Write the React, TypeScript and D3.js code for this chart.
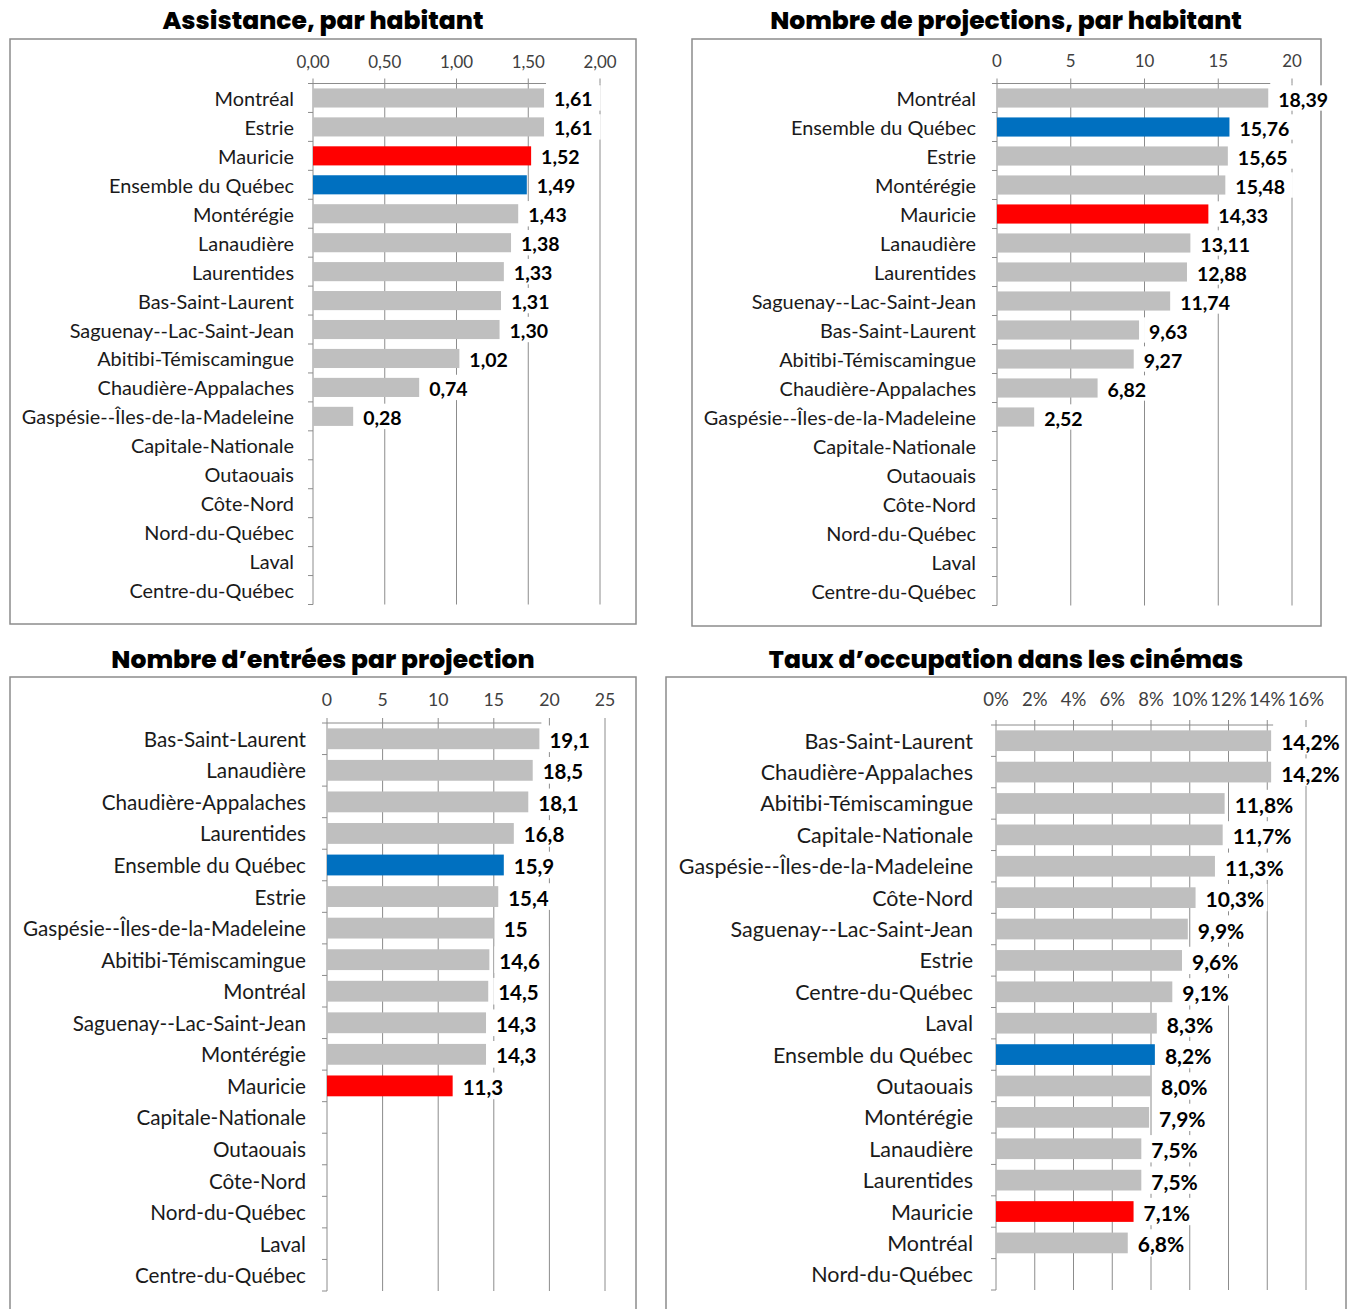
import React from 'react';
import * as d3 from 'd3';

// --- data ---
const assistanceRegions = [
  'Montréal', 'Estrie', 'Mauricie', 'Ensemble du Québec', 'Montérégie', 'Lanaudière',
  'Laurentides', 'Bas-Saint-Laurent', 'Saguenay--Lac-Saint-Jean', 'Abitibi-Témiscamingue',
  'Chaudière-Appalaches', 'Gaspésie--Îles-de-la-Madeleine', 'Capitale-Nationale', 'Outaouais',
  'Côte-Nord', 'Nord-du-Québec', 'Laval', 'Centre-du-Québec',
];
const assistanceValues = [1.61, 1.61, 1.52, 1.49, 1.43, 1.38, 1.33, 1.31, 1.30, 1.02, 0.74, 0.28, null, null, null, null, null, null];
const assistanceTicks = [0, 0.5, 1, 1.5, 2];

const projectionRegions = [
  'Montréal', 'Ensemble du Québec', 'Estrie', 'Montérégie', 'Mauricie', 'Lanaudière',
  'Laurentides', 'Saguenay--Lac-Saint-Jean', 'Bas-Saint-Laurent', 'Abitibi-Témiscamingue',
  'Chaudière-Appalaches', 'Gaspésie--Îles-de-la-Madeleine', 'Capitale-Nationale', 'Outaouais',
  'Côte-Nord', 'Nord-du-Québec', 'Laval', 'Centre-du-Québec',
];
const projectionValues = [18.39, 15.76, 15.65, 15.48, 14.33, 13.11, 12.88, 11.74, 9.63, 9.27, 6.82, 2.52, null, null, null, null, null, null];
const projectionTicks = [0, 5, 10, 15, 20];

const entreesRegions = [
  'Bas-Saint-Laurent', 'Lanaudière', 'Chaudière-Appalaches', 'Laurentides', 'Ensemble du Québec',
  'Estrie', 'Gaspésie--Îles-de-la-Madeleine', 'Abitibi-Témiscamingue', 'Montréal',
  'Saguenay--Lac-Saint-Jean', 'Montérégie', 'Mauricie', 'Capitale-Nationale', 'Outaouais',
  'Côte-Nord', 'Nord-du-Québec', 'Laval', 'Centre-du-Québec',
];
const entreesValues = [19.1, 18.5, 18.1, 16.8, 15.9, 15.4, 15, 14.6, 14.5, 14.3, 14.3, 11.3, null, null, null, null, null, null];
const entreesTicks = [0, 5, 10, 15, 20, 25];

const occupationRegions = [
  'Bas-Saint-Laurent', 'Chaudière-Appalaches', 'Abitibi-Témiscamingue', 'Capitale-Nationale',
  'Gaspésie--Îles-de-la-Madeleine', 'Côte-Nord', 'Saguenay--Lac-Saint-Jean', 'Estrie',
  'Centre-du-Québec', 'Laval', 'Ensemble du Québec', 'Outaouais', 'Montérégie', 'Lanaudière',
  'Laurentides', 'Mauricie', 'Montréal', 'Nord-du-Québec',
];
const occupationValues = [0.142, 0.142, 0.118, 0.117, 0.113, 0.103, 0.099, 0.096, 0.091, 0.083, 0.082, 0.080, 0.079, 0.075, 0.075, 0.071, 0.068, null];
const occupationTicks = [0, 0.02, 0.04, 0.06, 0.08, 0.1, 0.12, 0.14, 0.16];

const GRAY = '#bfbfbf';
const RED = '#ff0000';
const BLUE = '#0070c0';
const LINE = '#8c8c8c';
const LABEL_FONT = 'Lato, "Open Sans", sans-serif';

const comma = (s: string) => s.replace('.', ',');

const barColor = (name: string) =>
  name === 'Mauricie' ? RED : name === 'Ensemble du Québec' ? BLUE : GRAY;

type PanelProps = {
  title: string;
  titleX: number;
  titleY: number;
  box: [number, number, number, number];
  regions: string[];
  values: (number | null)[];
  ticks: number[];
  xRange: [number, number];
  yRange: [number, number];
  tickY: number;
  tickFmt: (v: number) => string;
  valFmt: (v: number) => string;
  fontSize: number;
  valSize: number;
  labelGap: number;
};

const Panel = (p: PanelProps) => {
  const x = d3.scaleLinear().domain([p.ticks[0], p.ticks[p.ticks.length - 1]]).range(p.xRange);
  const y = d3.scaleBand<string>()
    .domain(p.regions)
    .range(p.yRange)
    .paddingInner(0.34)
    .paddingOuter(0.17);
  const step = y.step();
  const [top, bottom] = p.yRange;
  const x0 = x(0);
  const maxV = d3.max(p.values, (d) => (d == null ? 0 : d)) as number;

  return (
    <g>
      <text x={p.titleX} y={p.titleY} textAnchor="middle" dominantBaseline="central"
        fontFamily='Poppins, Inter, "Open Sans", sans-serif' fontWeight={800} fontSize={25} fill="#000">
        {p.title}
      </text>
      <rect x={p.box[0]} y={p.box[1]} width={p.box[2]} height={p.box[3]} fill="#fff" stroke={LINE} strokeWidth={1.5} />

      {/* gridlines */}
      {p.ticks.slice(1).map((t) => (
        <line key={'g' + t} x1={x(t)} x2={x(t)} y1={top} y2={bottom} stroke={LINE} strokeWidth={1} />
      ))}

      {/* top axis */}
      <line x1={x0} x2={x(maxV) + 2} y1={top} y2={top} stroke={LINE} strokeWidth={1} />
      {p.ticks.map((t) => (
        <g key={'t' + t}>
          <line x1={x(t)} x2={x(t)} y1={top - 5} y2={top} stroke={LINE} strokeWidth={1} />
          <text x={x(t)} y={p.tickY} textAnchor="middle" dominantBaseline="central"
            fontFamily={LABEL_FONT} fontSize={p.fontSize - 3} fill="#404040">
            {p.tickFmt(t)}
          </text>
        </g>
      ))}

      {/* left axis */}
      <line x1={x0} x2={x0} y1={top} y2={bottom} stroke={LINE} strokeWidth={1} />
      {d3.range(p.regions.length + 1).map((i) => (
        <line key={'l' + i} x1={x0 - 5} x2={x0} y1={top + step * i} y2={top + step * i} stroke={LINE} strokeWidth={1} />
      ))}

      {p.regions.map((r, i) => {
        const v = p.values[i];
        const cy = (y(r) as number) + y.bandwidth() / 2;
        const label = v != null ? p.valFmt(v) : '';
        const w = label.length * p.valSize * 0.56 + 8;
        return (
          <g key={r}>
            <text x={x0 - p.labelGap} y={cy} textAnchor="end" dominantBaseline="central"
              fontFamily={LABEL_FONT} fontSize={p.fontSize} fill="#1a1a1a">
              {r}
            </text>
            {v != null && (
              <>
                <rect x={x0} y={y(r)} width={x(v) - x0} height={y.bandwidth()} fill={barColor(r)} />
                <rect x={x(v) + 5} y={cy - p.valSize * 0.65} width={w} height={p.valSize * 1.3} fill="#fff" />
                <text x={x(v) + 10} y={cy + 1} dominantBaseline="central"
                  fontFamily={LABEL_FONT} fontWeight={700} fontSize={p.valSize} fill="#000">
                  {label}
                </text>
              </>
            )}
          </g>
        );
      })}
    </g>
  );
};

const App = () => (
  <div style={{ position: 'absolute', left: 0, top: 0 }}>
    <svg width={1352} height={1309} style={{ display: 'block', background: '#fff' }}>
      <Panel
        title="Assistance, par habitant" titleX={323} titleY={20}
        box={[10, 39, 626, 585]}
        regions={assistanceRegions} values={assistanceValues} ticks={assistanceTicks}
        xRange={[313, 600]} yRange={[83.5, 604.5]} tickY={61}
        tickFmt={(v) => comma(d3.format('.2f')(v))} valFmt={(v) => comma(d3.format('.2f')(v))}
        fontSize={19.9} valSize={19.5} labelGap={19}
      />
      <Panel
        title="Nombre de projections, par habitant" titleX={1006} titleY={20}
        box={[692, 39, 629, 587]}
        regions={projectionRegions} values={projectionValues} ticks={projectionTicks}
        xRange={[997, 1292]} yRange={[83.5, 605.5]} tickY={60}
        tickFmt={(v) => String(v)} valFmt={(v) => comma(d3.format('.2f')(v))}
        fontSize={19.9} valSize={19.5} labelGap={21}
      />
      <Panel
        title="Nombre d’entrées par projection" titleX={323} titleY={659}
        box={[10, 677, 626, 660]}
        regions={entreesRegions} values={entreesValues} ticks={entreesTicks}
        xRange={[327, 605]} yRange={[723, 1291]} tickY={699}
        tickFmt={(v) => String(v)} valFmt={(v) => comma(String(v))}
        fontSize={20.7} valSize={20.5} labelGap={21}
      />
      <Panel
        title="Taux d’occupation dans les cinémas" titleX={1006} titleY={659}
        box={[666, 677, 680, 660]}
        regions={occupationRegions} values={occupationValues} ticks={occupationTicks}
        xRange={[996, 1306]} yRange={[725, 1290]} tickY={699}
        tickFmt={(v) => d3.format('.0%')(v)} valFmt={(v) => comma(d3.format('.1%')(v))}
        fontSize={21.5} valSize={21} labelGap={23}
      />
    </svg>
  </div>
);

export default App;
